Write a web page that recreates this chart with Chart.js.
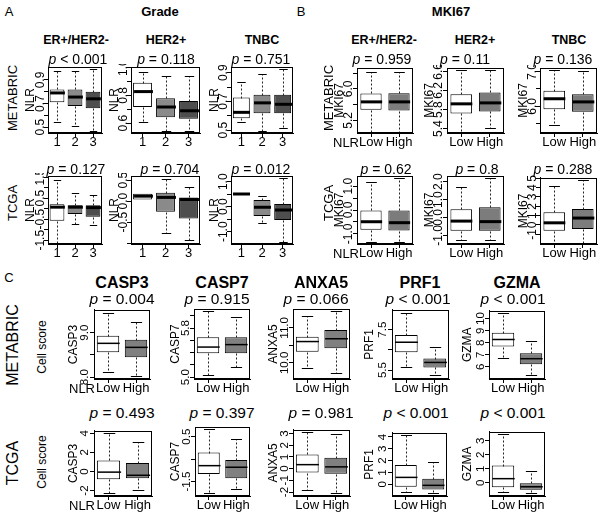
<!DOCTYPE html>
<html>
<head>
<meta charset="utf-8">
<script src="https://cdn.jsdelivr.net/npm/chart.js@4"></script>
<style>
body { margin:0; background:#fff; width:603px; height:515px; position:relative; overflow:hidden;
       font-family:"Liberation Sans", Arial, sans-serif; color:#000; }
.t { position:absolute; white-space:nowrap; line-height:1; transform:translate(-50%,-50%); }
.v { transform:translate(-50%,-50%) rotate(-90deg); }
.b { font-weight:bold; }
canvas { position:absolute; }
</style>
</head>
<body>
<script>
// categories
const gradeCats = ['1', '2', '3'];
const nlrCats = ['Low', 'High'];

// each box: [lower whisker, Q1, median, Q3, upper whisker]
// A - NLR by grade
const nlrMetEr   = [[0.54, 0.71, 0.79, 0.82, 0.98], [0.51, 0.68, 0.755, 0.82, 0.98], [0.47, 0.66, 0.74, 0.80, 0.99]];
const nlrMetHer2 = [[0.61, 0.717, 0.828, 0.892, 0.97], [0.545, 0.643, 0.717, 0.78, 0.938], [0.547, 0.632, 0.69, 0.76, 0.938]];
const nlrMetTnbc = [[0.558, 0.582, 0.624, 0.727, 0.835], [0.493, 0.617, 0.69, 0.746, 0.893], [0.516, 0.617, 0.68, 0.746, 0.928]];
const nlrTcgaEr   = [[-1.63, -0.57, 0.07, 0.21, 1.36], [-0.71, -0.25, 0.07, 0.16, 0.72], [-0.76, -0.39, 0.05, 0.16, 0.67]];
const nlrTcgaHer2 = [[0.04, 0.04, 0.12, 0.18, 0.18], [-0.75, -0.25, 0.09, 0.2, 0.54], [-0.93, -0.41, 0.04, 0.09, 0.33]];
const nlrTcgaTnbc = [[0.51, 0.51, 0.51, 0.51, 0.51], [-0.66, -0.37, -0.02, 0.27, 0.43], [-1.41, -0.53, -0.13, 0.11, 1.14]];
// B - MKI67 by NLR
const mkiMetEr   = [[4.91, 5.47, 5.67, 5.885, 6.43], [4.91, 5.45, 5.67, 5.89, 6.43]];
const mkiMetHer2 = [[5.33, 5.72, 5.92, 6.12, 6.63], [5.41, 5.76, 5.94, 6.16, 6.63]];
const mkiMetTnbc = [[5.48, 5.92, 6.22, 6.45, 7.05], [5.28, 5.85, 6.13, 6.35, 7.0]];
const mkiTcgaEr   = [[-1.32, -0.83, -0.49, 0.0, 1.18], [-1.33, -0.86, -0.53, 0.0, 1.32]];
const mkiTcgaHer2 = [[-1.26, -0.74, -0.2, 0.46, 1.72], [-1.26, -0.74, -0.23, 0.57, 2.19]];
const mkiTcgaTnbc = [[-1.9, -0.61, 0.23, 1.36, 4.15], [-1.9, -0.44, 0.74, 1.7, 4.8]];
// C - cell scores by NLR
const casp3Met = [[8.12, 8.56, 8.76, 8.93, 9.45], [8.03, 8.45, 8.67, 8.84, 9.23]];
const casp7Met = [[5.03, 5.39, 5.49, 5.65, 6.07], [5.17, 5.39, 5.53, 5.65, 5.98]];
const anxa5Met = [[9.86, 10.32, 10.61, 10.75, 11.34], [9.72, 10.42, 10.69, 10.94, 11.47]];
const prf1Met  = [[5.66, 6.39, 6.88, 7.24, 8.34], [5.26, 5.63, 5.88, 6.07, 6.64]];
const gzmaMet  = [[6.76, 7.68, 8.27, 8.83, 10.45], [5.33, 6.22, 6.68, 7.13, 8.16]];
const casp3Tcga = [[-2.25, -0.82, -0.07, 1.16, 4.03], [-1.98, -0.72, -0.4, 0.89, 3.07]];
const casp7Tcga = [[-1.99, -1.16, -0.79, -0.21, 0.83], [-1.84, -1.35, -0.86, -0.54, 0.38]];
const anxa5Tcga = [[-1.84, -0.34, 0.34, 1.21, 3.13], [-2.07, -0.43, 0.15, 0.94, 2.93]];
const prf1Tcga  = [[-0.65, -0.19, 0.59, 1.63, 4.19], [-0.7, -0.44, -0.08, 0.47, 1.86]];
const gzmaTcga  = [[-0.67, -0.33, 0.29, 1.23, 3.49], [-0.71, -0.51, -0.29, 0.0, 0.83]];

// y tick values and the labels printed at them ('' = tick mark only)
const tkNlrMetEr = [0.5, 0.6, 0.7, 0.8, 0.9],   lbNlrMetEr = ['0.5', '', '0.7', '', '0.9'];
const tkNlrMetHer2 = [0.6, 0.7, 0.8, 0.9, 1.0], lbNlrMetHer2 = ['0.6', '', '0.8', '', '1.0'];
const tkNlrMetTnbc = [0.5, 0.6, 0.7, 0.8, 0.9], lbNlrMetTnbc = ['0.5', '', '0.7', '', '0.9'];
const tkNlrTcgaEr = [-1.5, -1, -0.5, 0, 0.5, 1, 1.5], lbNlrTcgaEr = ['-1.5', '', '-0.5', '', '0.5', '', '1.5'];
const tkNlrTcgaHer2 = [-1, -0.5, 0, 0.5], lbNlrTcgaHer2 = ['', '-0.5', '0.0', '0.5'];
const tkNlrTcgaTnbc = [-1, -0.5, 0, 0.5, 1], lbNlrTcgaTnbc = ['-1.0', '', '0.0', '', '1.0'];
const tkMkiMetEr = [5.2, 5.6, 6.0, 6.4], lbMkiMetEr = ['5.2', '', '6.0', ''];
const tkMkiMetHer2 = [5.4, 5.8, 6.2, 6.6], lbMkiMetHer2 = ['5.4', '5.8', '6.2', '6.6'];
const tkMkiMetTnbc = [5.5, 6.0, 6.5, 7.0], lbMkiMetTnbc = ['', '6.0', '', '7.0'];
const tkMkiTcgaEr = [-1, -0.5, 0, 0.5, 1], lbMkiTcgaEr = ['-1.0', '', '0.0', '', '1.0'];
const tkMkiTcgaHer2 = [-1, 0, 1, 2], lbMkiTcgaHer2 = ['-1.0', '0.0', '1.0', '2.0'];
const tkMkiTcgaTnbc = [-1, 0, 1, 2, 3, 4, 5], lbMkiTcgaTnbc = ['-1', '0', '1', '2', '3', '4', '5'];
const tkCasp3Met = [8.0, 8.5, 9.0], lbCasp3Met = ['8.0', '', '9.0'];
const tkCasp7Met = [5.0, 5.2, 5.4, 5.6, 5.8, 6.0], lbCasp7Met = ['5.0', '', '', '', '5.8', ''];
const tkAnxa5Met = [10, 10.5, 11], lbAnxa5Met = ['10.0', '', '11.0'];
const tkPrf1Met = [5.5, 6.5, 7.5], lbPrf1Met = ['5.5', '', '7.5'];
const tkGzmaMet = [6, 7, 8, 9, 10], lbGzmaMet = ['6', '7', '8', '9', '10'];
const tkCasp3Tcga = [-2, 0, 2, 4], lbCasp3Tcga = ['-2', '0', '2', '4'];
const tkCasp7Tcga = [-1.5, -0.5, 0.5], lbCasp7Tcga = ['-1.5', '', '0.5'];
const tkAnxa5Tcga = [-2, -1, 0, 1, 2, 3], lbAnxa5Tcga = ['-2', '-1', '0', '1', '2', '3'];
const tkPrf1Tcga = [0, 1, 2, 3, 4], lbPrf1Tcga = ['0', '1', '2', '3', '4'];
const tkGzmaTcga = [0, 1, 2, 3], lbGzmaTcga = ['0', '1', '2', '3'];

const FAMILY = '"Liberation Sans", Arial, sans-serif';
Chart.defaults.font.family = FAMILY;
Chart.defaults.color = '#000';

const fillA = ['#ffffff', '#8a8a8a', '#4e4e4e'];
const fillB = ['#ffffff', '#7c7c7c'];
const fillC = ['#ffffff', '#808080'];

// whiskers, caps, medians and the frame, drawn with the chart's own scales
const boxPlugin = {
  id: 'boxplot',
  afterDatasetsDraw(chart, args, opts) {
    const ctx = chart.ctx, ys = chart.scales.y;
    const py = v => Math.round(ys.getPixelForValue(v)) + 0.5;
    const seg = (x1, y1, x2, y2) => { ctx.beginPath(); ctx.moveTo(x1, y1); ctx.lineTo(x2, y2); ctx.stroke(); };
    ctx.save();
    chart.getDatasetMeta(0).data.forEach((bar, i) => {
      const s = opts.stats[i];
      const x = Math.round(bar.x) + 0.5, hw = bar.width / 2;
      ctx.strokeStyle = '#222';
      ctx.lineWidth = 1;
      ctx.setLineDash([2, 2]);
      if (s[4] > s[3]) seg(x, py(s[3]), x, py(s[4]));
      if (s[0] < s[1]) seg(x, py(s[1]), x, py(s[0]));
      ctx.setLineDash([]);
      ctx.strokeStyle = '#000';
      if (s[4] > s[3]) seg(x - hw / 2, py(s[4]), x + hw / 2, py(s[4]));
      if (s[0] < s[1]) seg(x - hw / 2, py(s[0]), x + hw / 2, py(s[0]));
      ctx.lineWidth = opts.medianWidth;
      seg(x - hw, ys.getPixelForValue(s[2]), x + hw, ys.getPixelForValue(s[2]));
    });
    const a = chart.chartArea;
    ctx.lineWidth = 1;
    ctx.strokeStyle = '#000';
    ctx.strokeRect(Math.round(a.left) + 0.5, Math.round(a.top) + 0.5,
                   Math.round(a.right - a.left) - 1, Math.round(a.bottom - a.top) - 1);
    ctx.restore();
  }
};

const measureCtx = document.createElement('canvas').getContext('2d');
function widest(texts, size) {
  measureCtx.font = size + 'px ' + FAMILY;
  return Math.max(0, ...texts.map(t => measureCtx.measureText(t).width));
}

function panel(p) {
  const xH = 20, padT = 3, padR = 2;
  const left = p.titleX - 8;
  const top = p.plot[1] - padT;
  const w = p.plot[2] + padR - left;
  const h = p.plot[3] + xH - top;
  const yW = p.plot[0] - left;
  const tickSize = p.tickSize || 12, titleSize = p.titleSize || 12;
  const cv = document.createElement('canvas');
  cv.width = w; cv.height = h;
  cv.style.left = left + 'px'; cv.style.top = top + 'px';
  cv.style.width = w + 'px'; cv.style.height = h + 'px';
  document.body.appendChild(cv);
  const tickPad = p.plot[0] - p.tickX - 4 - widest(p.tickText, tickSize) / 2;

  new Chart(cv, {
    type: 'bar',
    data: {
      labels: p.cats,
      datasets: [{
        data: p.stats.map(s => [s[1], s[3]]),
        backgroundColor: p.fills,
        borderColor: '#000',
        borderWidth: 1,
        borderSkipped: false,
        barPercentage: p.barPct || 0.8,
        categoryPercentage: 1
      }]
    },
    options: {
      responsive: false,
      animation: false,
      devicePixelRatio: 1,
      layout: { padding: { top: padT, right: padR, left: 0, bottom: 0 } },
      plugins: {
        legend: { display: false },
        tooltip: { enabled: false },
        boxplot: { stats: p.stats, medianWidth: p.medW }
      },
      scales: {
        x: {
          type: 'category',
          offset: true,
          grid: { offset: false, drawOnChartArea: false, tickLength: 4, color: '#000' },
          border: { color: '#000' },
          ticks: { color: '#000', font: { size: 13 }, padding: -2, maxRotation: 0, autoSkip: false },
          afterFit(s) { s.height = xH; }
        },
        y: {
          min: p.min,
          max: p.max,
          afterBuildTicks(s) { s.ticks = p.ticks.map(v => ({ value: v })); },
          grid: { drawOnChartArea: false, tickLength: 4, color: '#000' },
          border: { color: '#000' },
          ticks: {
            callback: (v, i) => p.tickText[i],
            minRotation: 90, maxRotation: 90,
            crossAlign: 'center',
            padding: tickPad,
            autoSkip: false,
            color: '#000',
            font: { size: tickSize }
          },
          title: {
            display: true, text: p.yTitle, color: '#000',
            font: { size: titleSize },
            padding: { top: 8 - titleSize * 0.6, bottom: 0 }
          },
          afterFit(s) { s.width = yW; }
        }
      }
    },
    plugins: [boxPlugin]
  });
}

const A = { cats: gradeCats, fills: fillA, medW: 3, barPct: 0.82, yTitle: 'NLR' };
const B = { cats: nlrCats, fills: fillB, medW: 3, barPct: 0.76, yTitle: 'MKI67' };
const C = { cats: nlrCats, fills: fillC, medW: 1.5, barPct: 0.8, tickSize: 11.5, titleSize: 12 };

[
  { ...A, stats: nlrMetEr, ticks: tkNlrMetEr, tickText: lbNlrMetEr, min: 0.45, max: 1.01, plot: [48, 67, 102, 133], titleX: 31, tickX: 41 },
  { ...A, stats: nlrMetHer2, ticks: tkNlrMetHer2, tickText: lbNlrMetHer2, min: 0.53, max: 1.005, plot: [131, 67, 200, 133], titleX: 115, tickX: 124 },
  { ...A, stats: nlrMetTnbc, ticks: tkNlrMetTnbc, tickText: lbNlrMetTnbc, min: 0.48, max: 0.94, plot: [231, 67, 293, 133], titleX: 215, tickX: 224 },
  { ...A, stats: nlrTcgaEr, ticks: tkNlrTcgaEr, tickText: lbNlrTcgaEr, min: -1.68, max: 1.55, plot: [48, 176, 102, 244], titleX: 31, tickX: 41 },
  { ...A, stats: nlrTcgaHer2, ticks: tkNlrTcgaHer2, tickText: lbNlrTcgaHer2, min: -1.02, max: 0.6, plot: [131, 176, 200, 244], titleX: 115, tickX: 124 },
  { ...A, stats: nlrTcgaTnbc, ticks: tkNlrTcgaTnbc, tickText: lbNlrTcgaTnbc, min: -1.49, max: 1.23, plot: [231, 176, 293, 244], titleX: 215, tickX: 224 },
  { ...B, stats: mkiMetEr, ticks: tkMkiMetEr, tickText: lbMkiMetEr, min: 4.88, max: 6.53, plot: [357, 68, 413, 133], titleX: 340, tickX: 349 },
  { ...B, stats: mkiMetHer2, ticks: tkMkiMetHer2, tickText: lbMkiMetHer2, min: 5.31, max: 6.67, plot: [447, 68, 504, 133], titleX: 430, tickX: 439 },
  { ...B, stats: mkiMetTnbc, ticks: tkMkiMetTnbc, tickText: lbMkiMetTnbc, min: 5.24, max: 7.1, plot: [540, 68, 597, 133], titleX: 524, tickX: 533 },
  { ...B, stats: mkiTcgaEr, ticks: tkMkiTcgaEr, tickText: lbMkiTcgaEr, min: -1.42, max: 1.42, plot: [357, 176, 413, 244], titleX: 340, tickX: 349 },
  { ...B, stats: mkiTcgaHer2, ticks: tkMkiTcgaHer2, tickText: lbMkiTcgaHer2, min: -1.48, max: 2.32, plot: [447, 176, 504, 244], titleX: 430, tickX: 439 },
  { ...B, stats: mkiTcgaTnbc, ticks: tkMkiTcgaTnbc, tickText: lbMkiTcgaTnbc, min: -2.04, max: 5.05, plot: [540, 176, 597, 244], titleX: 524, tickX: 533 },
  { ...C, yTitle: 'CASP3', stats: casp3Met, ticks: tkCasp3Met, tickText: lbCasp3Met, min: 7.96, max: 9.51, plot: [94, 309, 150, 379], titleX: 74, tickX: 85 },
  { ...C, yTitle: 'CASP7', stats: casp7Met, ticks: tkCasp7Met, tickText: lbCasp7Met, min: 4.97, max: 6.11, plot: [194, 309, 250, 379], titleX: 176, tickX: 186 },
  { ...C, yTitle: 'ANXA5', stats: anxa5Met, ticks: tkAnxa5Met, tickText: lbAnxa5Met, min: 9.54, max: 11.54, plot: [293, 309, 350, 379], titleX: 274, tickX: 285 },
  { ...C, yTitle: 'PRF1', stats: prf1Met, ticks: tkPrf1Met, tickText: lbPrf1Met, min: 5.06, max: 8.48, plot: [392, 309, 449, 379], titleX: 370, tickX: 383 },
  { ...C, yTitle: 'GZMA', stats: gzmaMet, ticks: tkGzmaMet, tickText: lbGzmaMet, min: 5.0, max: 10.67, plot: [489, 309, 545, 379], titleX: 468, tickX: 481 },
  { ...C, yTitle: 'CASP3', stats: casp3Tcga, ticks: tkCasp3Tcga, tickText: lbCasp3Tcga, min: -2.57, max: 4.26, plot: [94, 427, 152, 496], titleX: 74, tickX: 85 },
  { ...C, yTitle: 'CASP7', stats: casp7Tcga, ticks: tkCasp7Tcga, tickText: lbCasp7Tcga, min: -2.14, max: 0.93, plot: [195, 427, 250, 496], titleX: 176, tickX: 187 },
  { ...C, yTitle: 'ANXA5', stats: anxa5Tcga, ticks: tkAnxa5Tcga, tickText: lbAnxa5Tcga, min: -2.34, max: 3.32, plot: [293, 427, 350, 496], titleX: 274, tickX: 285 },
  { ...C, yTitle: 'PRF1', stats: prf1Tcga, ticks: tkPrf1Tcga, tickText: lbPrf1Tcga, min: -0.98, max: 4.36, plot: [392, 427, 447, 496], titleX: 370, tickX: 383 },
  { ...C, yTitle: 'GZMA', stats: gzmaTcga, ticks: tkGzmaTcga, tickText: lbGzmaTcga, min: -0.95, max: 3.65, plot: [489, 427, 545, 496], titleX: 468, tickX: 481 }
].forEach(panel);

// text around the plots
function txt(html, x, y, size, cls) {
  const d = document.createElement('div');
  d.className = 't ' + (cls || '');
  d.style.left = x + 'px';
  d.style.top = y + 'px';
  d.style.fontSize = size + 'px';
  d.innerHTML = html;
  document.body.appendChild(d);
}
const pv = s => '<i>p</i> ' + s;

txt('A', 9, 11, 13); txt('B', 301, 11, 13); txt('C', 9, 277, 13);
txt('Grade', 160, 11, 13, 'b'); txt('MKI67', 451, 11, 13, 'b');
[['ER+/HER2-', 76], ['HER2+', 166], ['TNBC', 262], ['ER+/HER2-', 384], ['HER2+', 475], ['TNBC', 569]]
  .forEach(([s, x]) => txt(s, x, 40, 12.5, 'b'));
[['&lt; 0.001', 78], ['= 0.118', 166], ['= 0.751', 261], ['= 0.959', 382], ['= 0.11', 465], ['= 0.136', 563]]
  .forEach(([s, x]) => txt(pv(s), x, 59, 14));
[['= 0.127', 76], ['= 0.704', 170], ['= 0.012', 261], ['= 0.62', 386], ['= 0.8', 477], ['= 0.288', 563]]
  .forEach(([s, x]) => txt(pv(s), x, 169, 14));
txt('METABRIC', 12, 98, 13, 'v'); txt('TCGA', 12, 203, 13, 'v');
txt('METABRIC', 328, 98, 13, 'v'); txt('TCGA', 328, 203, 13, 'v');
txt('NLR', 346, 142, 13); txt('NLR', 346, 253, 13);

[['CASP3', 122], ['CASP7', 222], ['ANXA5', 321], ['PRF1', 420], ['GZMA', 517]]
  .forEach(([s, x]) => txt(s, x, 283, 16, 'b'));
[['= 0.004', 122], ['= 0.915', 217], ['= 0.066', 316], ['&lt; 0.001', 418], ['&lt; 0.001', 513]]
  .forEach(([s, x]) => txt(pv(s), x, 299, 15.5));
[['= 0.493', 122], ['= 0.397', 222], ['= 0.981', 321], ['&lt; 0.001', 416], ['&lt; 0.001', 513]]
  .forEach(([s, x]) => txt(pv(s), x, 413, 15.5));
txt('METABRIC', 13, 345, 16, 'v'); txt('TCGA', 13, 463, 16, 'v');
txt('Cell score', 42, 347, 12, 'v'); txt('Cell score', 42, 462, 12, 'v');
txt('NLR', 82, 388, 13); txt('NLR', 82, 505, 13);
</script>
</body>
</html>
